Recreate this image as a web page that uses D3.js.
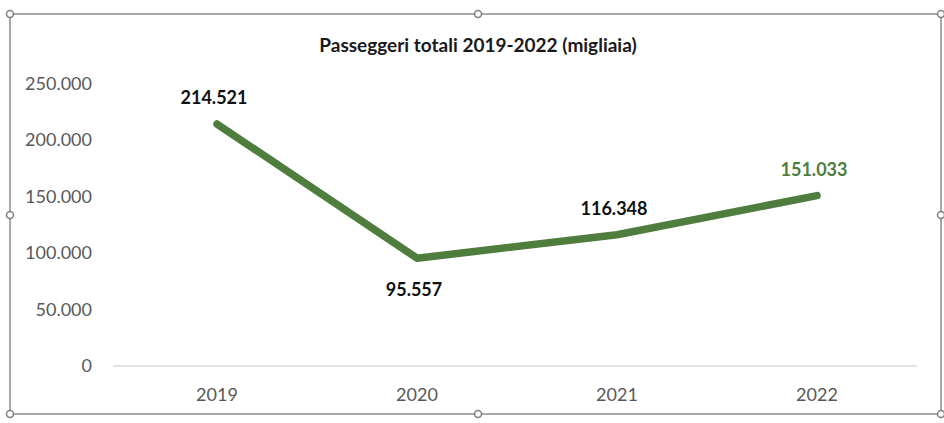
<!DOCTYPE html>
<html>
<head>
<meta charset="utf-8">
<script src="https://cdn.jsdelivr.net/npm/d3@7"></script>
<style>
  body { margin: 0; background: #fff; }
  svg { display: block; }
</style>
</head>
<body>
<div id="chart"></div>
<script>
// chart data
const years = ["2019", "2020", "2021", "2022"];
const passengers = [214521, 95557, 116348, 151033];
const yTicks = [0, 50000, 100000, 150000, 200000, 250000];
const chartTitle = "Passeggeri totali 2019-2022 (migliaia)";

const W = 944, H = 423;
const plot = { left: 117, right: 917, top: 84, bottom: 366 };
const fontFam = "Lato, 'Open Sans', sans-serif";

const svg = d3.select("#chart").append("svg")
    .attr("width", W)
    .attr("height", H);

// frame of the selected chart object
svg.append("rect")
    .attr("x", 10).attr("y", 14)
    .attr("width", 931).attr("height", 400)
    .attr("fill", "#fff")
    .attr("stroke", "#8c8c8c")
    .attr("stroke-width", 1.5);

const x = d3.scaleBand()
    .domain(years)
    .range([plot.left, plot.right]);

const y = d3.scaleLinear()
    .domain([0, 250000])
    .range([plot.bottom, plot.top]);

const fmt = d => d3.format(",")(d).replace(/,/g, ".");

// title
svg.append("text")
    .attr("x", 478).attr("y", 52)
    .attr("text-anchor", "middle")
    .style("font-family", fontFam)
    .style("font-weight", "bold")
    .style("font-size", "19px")
    .attr("fill", "#1a1a1a")
    .text(chartTitle);

// y axis labels (no axis line)
svg.selectAll(".ylab")
    .data(yTicks)
    .enter()
    .append("text")
    .attr("x", 92)
    .attr("y", d => y(d) + 6)
    .attr("text-anchor", "end")
    .style("font-family", fontFam)
    .style("font-size", "18px")
    .attr("fill", "#595959")
    .text(d => fmt(d));

// baseline
svg.append("line")
    .attr("x1", plot.left - 4).attr("x2", plot.right)
    .attr("y1", y(0)).attr("y2", y(0))
    .attr("stroke", "#d9d9d9")
    .attr("stroke-width", 1.5);

// x labels
svg.selectAll(".xlab")
    .data(years)
    .enter()
    .append("text")
    .attr("x", d => x(d) + x.bandwidth() / 2)
    .attr("y", 401)
    .attr("text-anchor", "middle")
    .style("font-family", fontFam)
    .style("font-size", "18px")
    .attr("fill", "#595959")
    .text(d => d);

// line
const pts = years.map((yr, i) => ({ year: yr, value: passengers[i] }));
const line = d3.line()
    .x(d => x(d.year) + x.bandwidth() / 2)
    .y(d => y(d.value));

svg.append("path")
    .datum(pts)
    .attr("d", line)
    .attr("fill", "none")
    .attr("stroke", "#4e7d3e")
    .attr("stroke-width", 7.5)
    .attr("stroke-linecap", "round")
    .attr("stroke-linejoin", "round");

// data labels
const labelDy = [-20, 38, -20, -20];
svg.selectAll(".dlab")
    .data(pts)
    .enter()
    .append("text")
    .attr("x", d => x(d.year) + x.bandwidth() / 2 - 3)
    .attr("y", (d, i) => y(d.value) + labelDy[i])
    .attr("text-anchor", "middle")
    .style("font-family", fontFam)
    .style("font-weight", "bold")
    .style("font-size", "18px")
    .attr("fill", (d, i) => i === pts.length - 1 ? "#4e7d3e" : "#111")
    .text(d => fmt(d.value));

// selection handles
const handles = [[10, 14], [478, 14], [941, 14], [10, 215], [941, 215], [10, 414], [478, 414], [941, 414]];
svg.selectAll(".handle")
    .data(handles)
    .enter()
    .append("circle")
    .attr("cx", d => d[0])
    .attr("cy", d => d[1])
    .attr("r", 3.5)
    .attr("fill", "#fff")
    .attr("stroke", "#7f7f7f")
    .attr("stroke-width", 1.5);
</script>
</body>
</html>
